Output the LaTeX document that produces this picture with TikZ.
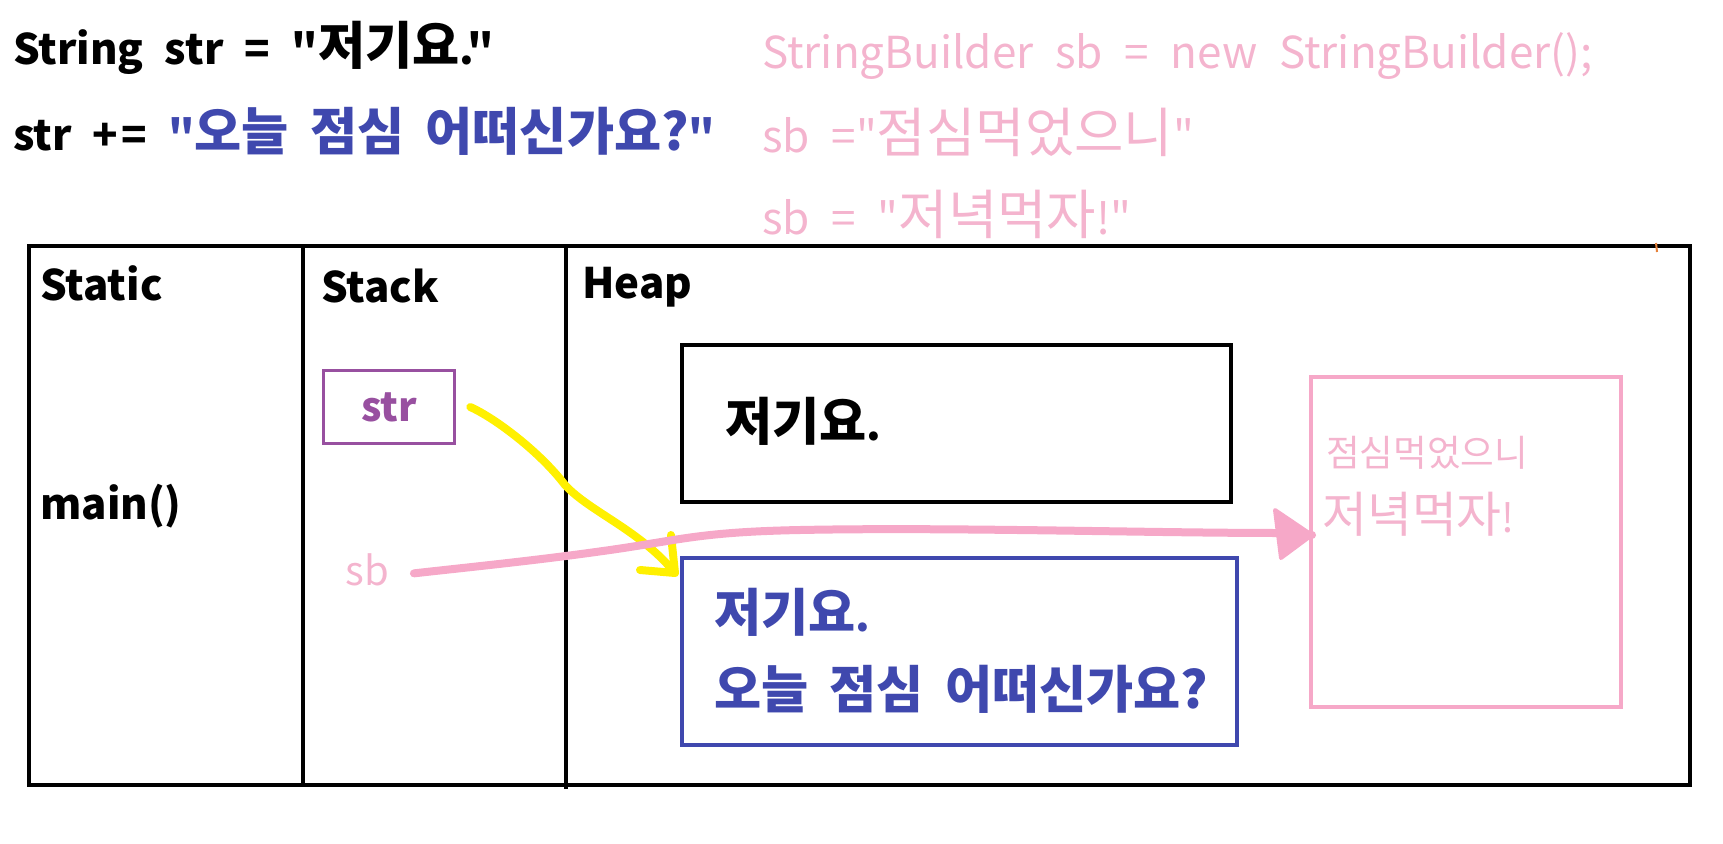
\documentclass[tikz,border=0pt]{standalone}
\usepackage{fontspec}
\usepackage{graphicx}
\newfontfamily\kr{Noto Sans CJK KR}[WordSpace=2.2]
\newcommand\hg[1]{\scalebox{1.22}{#1}}
\definecolor{pinktxt}{RGB}{244,180,206}
\definecolor{pinkline}{RGB}{246,168,200}
\definecolor{blueK}{RGB}{63,72,174}
\definecolor{purpleK}{RGB}{152,80,160}
\definecolor{yellowK}{RGB}{255,240,0}
\definecolor{orangeK}{RGB}{230,130,60}
\tikzset{
  lbl/.style={inner sep=0pt, anchor=base west},
  bl/.style={lbl, font=\kr\bfseries\fontsize{#1}{#1}\selectfont},
  pk/.style={lbl, text=pinktxt, font=\kr\fontsize{#1}{#1}\selectfont},
  frame/.style={draw=black, line width=4pt},
  hand/.style={line width=#1, line cap=round, line join=round}
}
\begin{document}
\kr
\begin{tikzpicture}[x=1pt,y=-1pt]
\useasboundingbox (0,0) rectangle (1723,843);
% code lines
\node[bl=42] (c1) at (13,64) {String str = "\hg{저기요}."};
\node[bl=42] (c2) at (13,150) {str +\kern3pt= \textcolor{blueK}{"\hg{오늘} \hg{점심} \hg{어떠신가요?}"}};
\node[pk=44] (p1) at (762,68) {StringBuilder sb = new StringBuilder();};
\node[pk=44] (p2) at (762,152) {sb ="\hg{점심먹었으니}"};
\node[pk=44] (p3) at (762,234) {sb = "\hg{저녁먹자}!"};
% memory frame
\draw[frame] (29,246) rectangle (1690,785);
\draw[frame] (303,246) -- (303,785);
\draw[frame] (566,246) -- (566,789);
\draw[orangeK, line width=2pt] (1656,243) -- (1657,252);
\node[bl=42] (st) at (40,300) {Static};
\node[bl=42] (sk) at (321,302) {Stack};
\node[bl=42] (hp) at (582,298) {Heap};
\node[bl=42] (mn) at (40,519) {main()};
% stack vars
\node[draw=purpleK, line width=3.5pt, minimum width=131pt, minimum height=73pt, inner sep=0pt,
      text=purpleK, font=\kr\bfseries\fontsize{40}{40}\selectfont] (str) at (389,407) {str};
\node[pk=40, anchor=base] (sb) at (367,585) {sb};
% heap objects
\draw[line width=4.5pt] (682,345) rectangle (1231,502);
\node[bl=42] (t1) at (725,440) {\hg{저기요}.};
\draw[blueK, line width=3.5pt] (682,558) rectangle (1237,745);
\node[bl=42, text=blueK] (t2) at (714,631) {\hg{저기요}.};
\node[bl=42, text=blueK] (t3) at (714,708) {\hg{오늘} \hg{점심} \hg{어떠신가요?}};
\draw[pinkline, line width=4pt] (1311,377) rectangle (1621,707);
\node[pk=30] (t4) at (1326,466) {\hg{점심먹었으니}};
\node[pk=40] (t5) at (1322,532) {\hg{저녁먹자}!};
% yellow arrow str -> blue box
\coordinate (ytip) at (675,573);
\draw[yellowK, hand=8pt] (str.east) ++(14,0) .. controls (495,418) and (540,452) .. (565,485)
   .. controls (590,512) and (640,530) .. (ytip);
\draw[yellowK, hand=8pt] (671,535) -- (ytip) -- (640,570);
% pink arrow sb -> pink box
\coordinate (ptip) at (1312,535);
\draw[pinkline, hand=8pt] (sb.east) ++(25,4) .. controls (480,566) and (540,560) .. (610,550)
   .. controls (680,540) and (700,532) .. (800,530)
   .. controls (950,527) and (1150,533) .. (1280,533) -- (ptip);
\fill[pinkline, line join=round, draw=pinkline, line width=4pt] (ptip) -- (1275,510) -- (1281,558) -- cycle;
\end{tikzpicture}
\end{document}
